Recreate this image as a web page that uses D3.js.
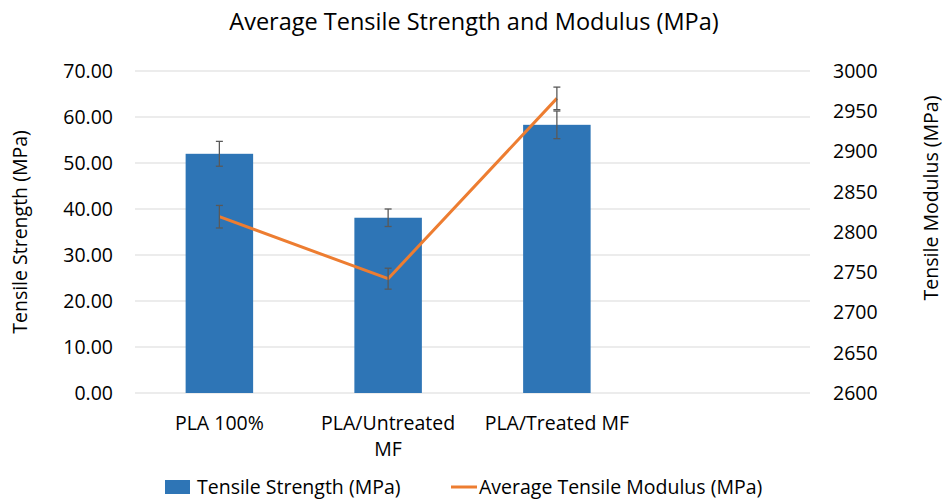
<!DOCTYPE html>
<html><head><meta charset="utf-8">
<script src="https://cdn.jsdelivr.net/npm/d3@7"></script>
<style>body{margin:0;background:#fff}text{font-family:"Open Sans",sans-serif;fill:#000}</style>
</head><body><svg id="c" width="944" height="500"></svg>
<script>
const categories = ["PLA 100%", "PLA/Untreated MF", "PLA/Treated MF", ""];
const strength = [52.0, 38.1, 58.3, null];
const strengthErr = [2.7, 1.9, 3.0, null];
const modulus = [2819, 2742, 2966, null];
const modulusErr = [14, 13, 14, null];
const leftTicks = [0, 10, 20, 30, 40, 50, 60, 70];
const rightTicks = [2600, 2650, 2700, 2750, 2800, 2850, 2900, 2950, 3000];

const svg = d3.select("#c");
const L = 135, R = 810, T = 71, B = 393;
const x = d3.scaleBand().domain(d3.range(categories.length)).range([L, R]).paddingInner(0.6).paddingOuter(0.3);
const yL = d3.scaleLinear().domain([0, 70]).range([B, T]);
const yR = d3.scaleLinear().domain([2600, 3000]).range([B, T]);
const FS = "19.5px";

// gridlines
svg.append("g").selectAll("line").data(leftTicks).join("line")
  .attr("x1", L).attr("x2", R).attr("y1", d => yL(d)).attr("y2", d => yL(d))
  .attr("stroke", "#d9d9d9").attr("stroke-width", 1);

// axes labels
const ga = d3.axisLeft(yL).tickValues(leftTicks).tickFormat(d3.format(".2f")).tickSize(0).tickPadding(22);
const gl = svg.append("g").attr("transform", `translate(${L},0)`).call(ga);
gl.select(".domain").remove();
gl.selectAll("text").style("font-size", FS).attr("font-family", "Open Sans").attr("fill", "#000");

const gaR = d3.axisRight(yR).tickValues(rightTicks).tickFormat(d3.format("d")).tickSize(0).tickPadding(23);
const gr = svg.append("g").attr("transform", `translate(${R},0)`).call(gaR);
gr.select(".domain").remove();
gr.selectAll("text").style("font-size", FS).attr("font-family", "Open Sans").attr("fill", "#000");

// bars
const bw = x.bandwidth();
const idx = d3.range(categories.length).filter(i => strength[i] != null);
svg.append("g").selectAll("rect").data(idx).join("rect")
  .attr("x", i => x(i)).attr("width", bw)
  .attr("y", i => yL(strength[i])).attr("height", i => yL(0) - yL(strength[i]))
  .attr("fill", "#2E75B6");

function errBars(g, scale, vals, errs) {
  idx.forEach(i => {
    const cx = x(i) + bw / 2;
    const y1 = scale(vals[i] + errs[i]), y2 = scale(vals[i] - errs[i]);
    g.append("line").attr("x1", cx).attr("x2", cx).attr("y1", y1).attr("y2", y2);
    g.append("line").attr("x1", cx - 3.5).attr("x2", cx + 3.5).attr("y1", y1).attr("y2", y1);
    g.append("line").attr("x1", cx - 3.5).attr("x2", cx + 3.5).attr("y1", y2).attr("y2", y2);
  });
}
const eb = svg.append("g").attr("stroke", "#595959").attr("stroke-width", 1.3);
errBars(eb, yL, strength, strengthErr);

// line
const line = d3.line().x(i => x(i) + bw / 2).y(i => yR(modulus[i]));
svg.append("path").datum(idx).attr("d", line).attr("fill", "none")
  .attr("stroke", "#ED7D31").attr("stroke-width", 3).attr("stroke-linejoin", "round");
const eb2 = svg.append("g").attr("stroke", "#595959").attr("stroke-width", 1.3);
errBars(eb2, yR, modulus, modulusErr);

// category labels
const catLines = [["PLA 100%"], ["PLA/Untreated", "MF"], ["PLA/Treated MF"], [""]];
catLines.forEach((ls, i) => {
  ls.forEach((t, j) => {
    svg.append("text").attr("x", x(i) + bw / 2).attr("y", 430 + j * 26)
      .attr("text-anchor", "middle").style("font-size", FS).text(t);
  });
});

// title
svg.append("text").attr("x", 474).attr("y", 30).attr("text-anchor", "middle")
  .style("font-size", "23.5px").text("Average Tensile Strength and Modulus (MPa)");

// axis titles
svg.append("text").attr("transform", `translate(27,${(T + B) / 2}) rotate(-90)`)
  .attr("text-anchor", "middle").style("font-size", FS).text("Tensile Strength (MPa)");
svg.append("text").attr("transform", `translate(938,${(T + B) / 2 - 34}) rotate(-90)`)
  .attr("text-anchor", "middle").style("font-size", FS).text("Tensile Modulus (MPa)");

// legend
svg.append("rect").attr("x", 165).attr("y", 480).attr("width", 25).attr("height", 14).attr("fill", "#2E75B6");
svg.append("text").attr("x", 197).attr("y", 494).style("font-size", FS).text("Tensile Strength (MPa)");
svg.append("line").attr("x1", 451).attr("x2", 477).attr("y1", 487).attr("y2", 487)
  .attr("stroke", "#ED7D31").attr("stroke-width", 3);
svg.append("text").attr("x", 479).attr("y", 494).style("font-size", FS).text("Average Tensile Modulus (MPa)");
</script></body></html>
